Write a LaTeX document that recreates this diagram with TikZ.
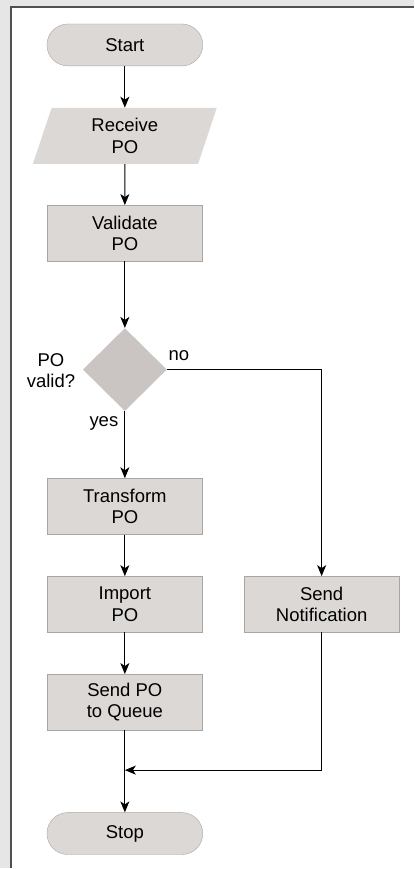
\documentclass[tikz,border=0pt]{standalone}
\usepackage{fontspec}
\setmainfont{Liberation Sans}
\usepackage{tikz}
\usetikzlibrary{arrows.meta,shapes.geometric}
\definecolor{page}{HTML}{E6E6E7}
\definecolor{frame}{HTML}{505050}
\definecolor{boxfill}{HTML}{DCD8D6}
\definecolor{boxedge}{HTML}{A9A5A3}
\definecolor{decfill}{HTML}{CAC5C3}

\begin{document}
\begin{tikzpicture}[x=1pt,y=-1pt,
  every node/.style={font=\fontsize{18.5}{21.5}\selectfont,align=center},
  terminal/.style={draw=boxedge,fill=boxfill,rounded corners=21pt,minimum width=156pt,minimum height=42pt,inner sep=0pt},
  stepbox/.style={draw=boxedge,fill=boxfill,minimum width=155pt,minimum height=56pt,inner sep=0pt},
  iobox/.style={trapezium,trapezium stretches body,trapezium left angle=62,trapezium right angle=118,fill=boxfill,minimum width=184pt,minimum height=56pt,inner sep=0pt},
  decision/.style={diamond,fill=decfill,minimum width=84pt,minimum height=83pt,inner sep=0pt},
  flow/.style={line width=1pt,-{Stealth[length=11pt,width=9pt,inset=3pt]}}]
  % page and frame
  \fill[page] (0,0) rectangle (414,869);
  \fill[white] (11,7) rectangle (414,869);
  \draw[frame,line width=2pt] (11,869) -- (11,7) -- (414,7);
  % main column
  \node[terminal] (start) at (125,45) {Start};
  \node[iobox] (recv) at (125,136) {Receive\\PO};
  \node[stepbox] (valid) at (125,233.5) {Validate\\PO};
  \node[decision] (check) at (125,370) {};
  \node (qlabel) at (51,371) {PO\\valid?};
  \node (nolabel) at (179,356) {no};
  \node (yeslabel) at (104,424) {yes};
  \node[stepbox] (trans) at (125,507) {Transform\\PO};
  \node[stepbox] (import) at (125,605) {Import\\PO};
  \node[stepbox] (queue) at (125,703) {Send PO\\to Queue};
  \node[terminal] (stop) at (125,834.5) {Stop};
  % side branch
  \node[stepbox] (notify) at (322,605) {Send\\Notification};
  \coordinate (merge) at (125,771);
  \draw[flow] (start) -- (recv);
  \draw[flow] (recv) -- (valid);
  \draw[flow] (valid) -- (check);
  \draw[flow] (check) -- (trans);
  \draw[flow] (check.east) -| (notify.north);
  \draw[flow] (trans) -- (import);
  \draw[flow] (import) -- (queue);
  \draw[flow] (queue) -- (stop);
  \draw[flow] (notify.south) |- (merge);
\end{tikzpicture}
\end{document}
